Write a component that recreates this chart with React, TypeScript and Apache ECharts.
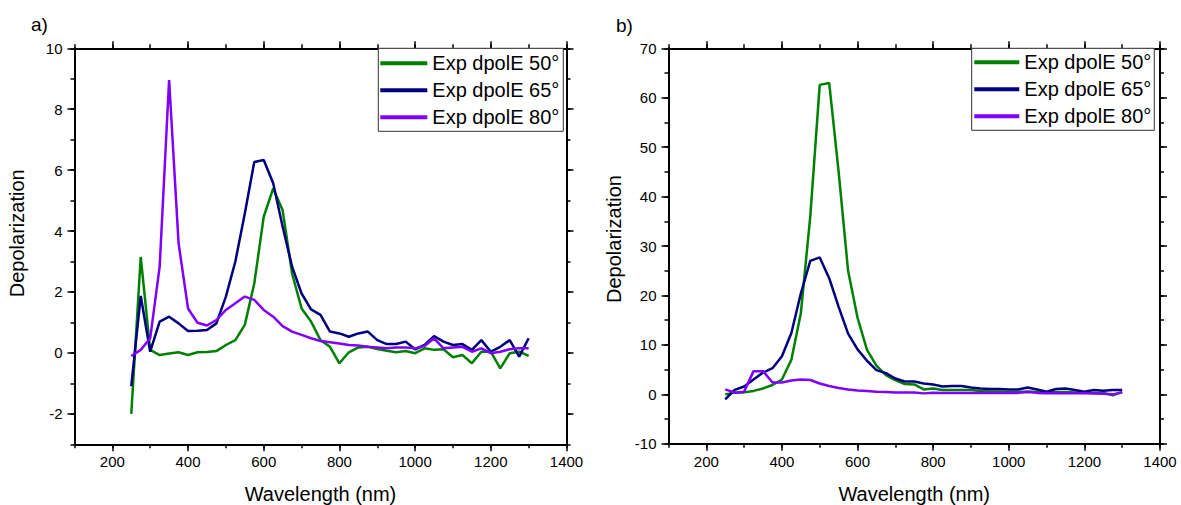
import React, { useEffect, useRef } from "react";
import * as echarts from "echarts";

const wavelengths = [
  250, 275, 300, 325, 350, 375, 400, 425, 450, 475, 500, 525, 550, 575, 600, 625, 650, 675, 700, 725, 750,
  775, 800, 825, 850, 875, 900, 925, 950, 975, 1000, 1025, 1050, 1075, 1100, 1125, 1150, 1175, 1200, 1225,
  1250, 1275, 1300,
];

// panel a)
const aDpol50 = [
  -2.0, 3.15, 0.1, -0.07, -0.02, 0.02, -0.07, 0.02, 0.03, 0.06, 0.26, 0.42, 0.92, 2.28, 4.47, 5.4, 4.68, 2.6,
  1.46, 1.03, 0.42, 0.2, -0.34, 0.02, 0.18, 0.2, 0.13, 0.07, 0.02, 0.06, -0.01, 0.15, 0.1, 0.12, -0.14, -0.07,
  -0.34, 0.04, 0.04, -0.51, -0.01, 0.04, -0.1,
];
const aDpol65 = [
  -1.09, 1.87, 0.04, 1.03, 1.19, 0.97, 0.72, 0.73, 0.75, 0.97, 1.85, 3.0, 4.58, 6.27, 6.33, 5.57, 4.14, 2.83,
  1.95, 1.43, 1.25, 0.7, 0.64, 0.53, 0.64, 0.7, 0.42, 0.29, 0.29, 0.37, 0.12, 0.26, 0.55, 0.37, 0.26, 0.29, 0.1,
  0.42, 0.04, 0.2, 0.42, -0.12, 0.48,
];
const aDpol80 = [
  -0.1, 0.1, 0.48, 2.83, 8.96, 3.6, 1.46, 0.99, 0.9, 1.08, 1.41, 1.63, 1.85, 1.74, 1.41, 1.19, 0.88, 0.7, 0.59,
  0.48, 0.39, 0.35, 0.31, 0.26, 0.24, 0.2, 0.18, 0.15, 0.18, 0.18, 0.15, 0.23, 0.48, 0.15, 0.18, 0.2, 0.04,
  0.15, -0.01, 0.04, 0.12, 0.15, 0.15,
];

// panel b)
const bDpol50 = [
  0, 0.35, 0.4, 0.7, 1.2, 1.9, 3.0, 7.0, 16.4, 36, 62.6, 63.0, 45, 25, 15.5, 9.0, 5.8, 3.9, 2.9, 2.1, 2.0, 1.0,
  1.2, 0.9, 0.9, 0.9, 0.9, 0.7, 0.6, 0.6, 0.5, 0.5, 0.6, 0.5, 0.4, 0.5, 0.5, 0.4, 0.4, 0.3, 0.3, -0.2, 0.5,
];
const bDpol65 = [
  -1.0, 0.9, 1.6, 3.0, 4.4, 5.3, 7.7, 12.4, 20.4, 27.0, 27.7, 23.5, 17.7, 12.3, 9.1, 6.8, 4.9, 4.3, 3.2, 2.6,
  2.6, 2.2, 2.0, 1.6, 1.7, 1.7, 1.4, 1.2, 1.1, 1.1, 1.0, 1.0, 1.4, 1.0, 0.55, 1.1, 1.2, 0.9, 0.55, 0.9, 0.75,
  0.9, 0.9,
];
const bDpol80 = [
  1.0, 0.35, 0.55, 4.7, 4.7, 2.4, 2.4, 2.8, 3.0, 2.9, 2.2, 1.7, 1.3, 1.0, 0.8, 0.7, 0.55, 0.5, 0.4, 0.4, 0.4,
  0.2, 0.35, 0.3, 0.3, 0.3, 0.3, 0.3, 0.3, 0.3, 0.3, 0.3, 0.5, 0.3, 0.25, 0.3, 0.2, 0.25, 0.2, 0.15, 0.1, 0.0,
  0.4,
];

const xTicks = [200, 400, 600, 800, 1000, 1200, 1400];
const aYTicks = [-2, 0, 2, 4, 6, 8, 10];
const bYTicks = [-10, 0, 10, 20, 30, 40, 50, 60, 70];
const seriesNames = ["Exp dpolE 50°", "Exp dpolE 65°", "Exp dpolE 80°"];
const seriesColors = ["#008000", "#000080", "#8000ff"];

const FONT = "'Liberation Sans', Arial, sans-serif";

const labelStyle = { fontSize: 15, color: "#000", fontFamily: FONT };

function pick(list: number[]) {
  return (v: number) => (list.some((t) => Math.abs(t - v) < 1e-6) ? String(v) : "");
}

function xAxesFor(gridIndex: number) {
  const base = {
    type: "value",
    gridIndex,
    min: 100,
    max: 1400,
    interval: 100,
    splitLine: { show: false },
  };
  const line = { show: true, onZero: false, lineStyle: { color: "#000", width: 2 } };
  const noLine = { show: false, onZero: false };
  return [
    {
      ...base,
      position: "bottom",
      axisLine: line,
      axisTick: { show: true, inside: false, length: 7, customValues: xTicks, lineStyle: { color: "#000", width: 1.5 } },
      axisLabel: { show: true, ...labelStyle, margin: 10, hideOverlap: false, formatter: pick(xTicks) },
      name: "Wavelength (nm)",
      nameLocation: "middle",
      nameGap: 40,
      nameTextStyle: { fontSize: 20, color: "#000", fontFamily: FONT },
    },
    {
      ...base,
      position: "bottom",
      axisLine: noLine,
      axisTick: { show: true, inside: false, length: 4, lineStyle: { color: "#000", width: 1.5 } },
      axisLabel: { show: false },
    },
    {
      ...base,
      position: "top",
      axisLine: line,
      axisTick: { show: true, inside: false, length: 7, customValues: xTicks, lineStyle: { color: "#000", width: 1.5 } },
      axisLabel: { show: false },
    },
    {
      ...base,
      position: "top",
      axisLine: noLine,
      axisTick: { show: true, inside: false, length: 4, lineStyle: { color: "#000", width: 1.5 } },
      axisLabel: { show: false },
    },
  ];
}

function yAxesFor(gridIndex: number, min: number, max: number, minor: number, major: number[], nameGap: number, pad: number) {
  const base = {
    type: "value",
    gridIndex,
    min,
    max,
    interval: minor,
    splitLine: { show: false },
  };
  const line = { show: true, onZero: false, lineStyle: { color: "#000", width: 2 } };
  const noLine = { show: false, onZero: false };
  return [
    {
      ...base,
      position: "left",
      axisLine: line,
      axisTick: { show: true, inside: false, length: 7, customValues: major, lineStyle: { color: "#000", width: 1.5 } },
      axisLabel: { show: true, ...labelStyle, margin: 12, hideOverlap: false, formatter: pick(major) },
      name: "Depolarization",
      nameLocation: "middle",
      nameGap,
      nameTextStyle: { fontSize: 20, color: "#000", fontFamily: FONT, padding: [0, 0, 0, pad] },
    },
    {
      ...base,
      position: "left",
      axisLine: noLine,
      axisTick: { show: true, inside: false, length: 4, lineStyle: { color: "#000", width: 1.5 } },
      axisLabel: { show: false },
    },
    {
      ...base,
      position: "right",
      axisLine: line,
      axisTick: { show: true, inside: false, length: 7, customValues: major, lineStyle: { color: "#000", width: 1.5 } },
      axisLabel: { show: false },
    },
    {
      ...base,
      position: "right",
      axisLine: noLine,
      axisTick: { show: true, inside: false, length: 4, lineStyle: { color: "#000", width: 1.5 } },
      axisLabel: { show: false },
    },
  ];
}

function makeSeries(gridIndex: number, sets: number[][]) {
  return sets.map((vals, i) => ({
    type: "line",
    name: seriesNames[i],
    xAxisIndex: gridIndex * 4,
    yAxisIndex: gridIndex * 4,
    data: wavelengths.map((w, k) => [w, vals[k]]),
    symbol: "none",
    showSymbol: false,
    lineStyle: { width: 2.5, color: seriesColors[i] },
    itemStyle: { color: seriesColors[i] },
    z: 3,
  }));
}

function legendFor(left: number, top: number, itemWidth: number, textGap: number, padding: number[]) {
  return {
    data: seriesNames.map((name) => ({ name, icon: "rect" })),
    orient: "vertical",
    left,
    top,
    itemWidth,
    itemHeight: 4,
    itemGap: 7,
    itemTextGap: textGap,
    padding,
    borderColor: "#333",
    borderWidth: 1,
    backgroundColor: "#fff",
    textStyle: { fontSize: 20, color: "#000", fontFamily: FONT },
    selectedMode: false,
    z: 10,
  };
}

export default function App() {
  const ref = useRef<HTMLDivElement>(null);
  useEffect(() => {
    if (!ref.current) return;
    const chart = echarts.init(ref.current, undefined, { renderer: "svg" });
    chart.setOption({
      animation: false,
      backgroundColor: "#fff",
      grid: [
        { left: 74.5, top: 48.3, width: 492, height: 396, containLabel: false, outerBoundsMode: "none" },
        { left: 668.5, top: 48.3, width: 491.5, height: 395.5, containLabel: false, outerBoundsMode: "none" },
      ],
      xAxis: [...xAxesFor(0), ...xAxesFor(1)],
      yAxis: [
        ...yAxesFor(0, -3, 10, 1, aYTicks, 48, 26),
        ...yAxesFor(1, -10, 70, 5, bYTicks, 45, 14),
      ],
      legend: [
        legendFor(378.3, 48.3, 47, 6.6, [5, 4, 4, 2]),
        legendFor(971.7, 48.3, 45, 7.4, [4, 3, 4, 2.6]),
      ],
      graphic: [
        { type: "text", left: 31, top: 15, style: { text: "a)", fontSize: 19, fill: "#000", fontFamily: FONT } },
        { type: "text", left: 616, top: 16, style: { text: "b)", fontSize: 19, fill: "#000", fontFamily: FONT } },
      ],
      series: [
        ...makeSeries(0, [aDpol50, aDpol65, aDpol80]),
        ...makeSeries(1, [bDpol50, bDpol65, bDpol80]),
      ],
    });
    return () => chart.dispose();
  }, []);
  return (
    <div
      ref={ref}
      style={{ position: "absolute", left: 0, top: 0, width: 1181, height: 505, background: "#fff" }}
    />
  );
}
